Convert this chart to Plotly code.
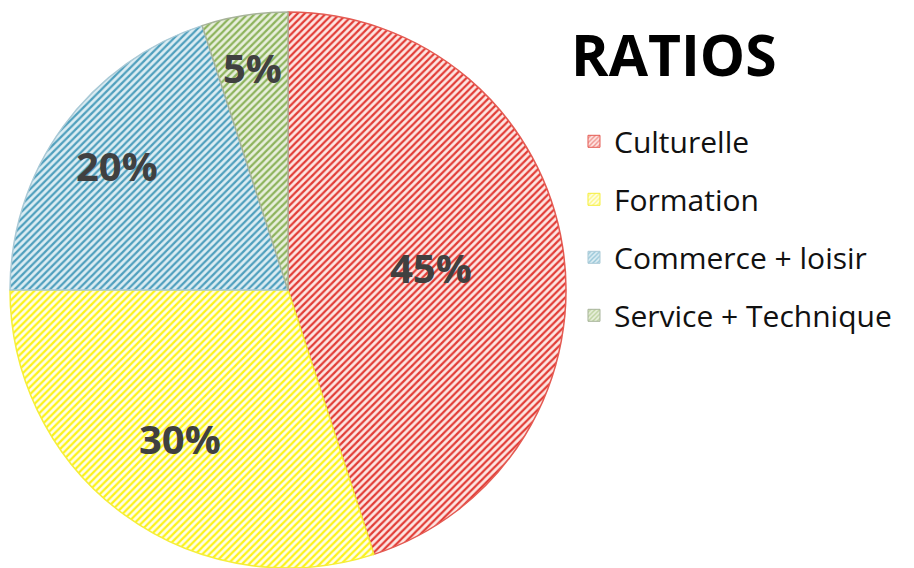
import math
import plotly.graph_objects as go

# Share of activity categories
labels = ["Culturelle", "Formation", "Commerce + loisir", "Service + Technique"]
values = [45, 30, 20, 5]

# Hatch line colours, pale backgrounds and slice outlines per category
line_colors = ["#e23c36", "#fbf21a", "#4f9fbd", "#8db35c"]
back_colors = ["#fde6e3", "#fffee6", "#dcedf3", "#e8efdc"]
edge_colors = ["#e45a52", "#f5ee3a", "#a9c9d6", "#a7b39a"]

# Radial placement of each percentage label (fraction of the radius)
label_radius = [0.52, 0.66, 0.76, 0.81]

W, H = 914, 568
pie_x = [10 / W, 566 / W]
pie_y = [0.0, 556 / H]

fig = go.Figure()

fig.add_trace(go.Pie(
    labels=labels,
    values=values,
    sort=False,
    direction="clockwise",
    rotation=0,
    showlegend=False,
    textinfo="none",
    marker=dict(
        colors=back_colors,
        line=dict(color=edge_colors, width=1.5),
        pattern=dict(shape="/", size=5, solidity=0.45,
                     fgcolor=line_colors, bgcolor=back_colors),
    ),
    domain=dict(x=pie_x, y=pie_y),
    hoverinfo="label+percent",
))

# Legend entries with hatched swatches
for i, name in enumerate(labels):
    fig.add_trace(go.Bar(
        x=[None], y=[None], name=name,
        legendgroup=name,
        marker=dict(
            color=back_colors[i],
            line=dict(color=edge_colors[i], width=1),
            pattern=dict(shape="/", size=4, solidity=0.45,
                         fgcolor=line_colors[i], bgcolor=back_colors[i]),
        ),
        hoverinfo="skip",
    ))

# Percentage labels placed at each slice's mid-angle
cx_px = (pie_x[0] + pie_x[1]) / 2 * W
cy_px = H - (pie_y[0] + pie_y[1]) / 2 * H
radius_px = (pie_x[1] - pie_x[0]) * W / 2
total = sum(values)
annotations = []
cum = 0
for v, frac in zip(values, label_radius):
    mid = (cum + v / 2) / total * 2 * math.pi
    cum += v
    px = cx_px + frac * radius_px * math.sin(mid)
    py = cy_px - frac * radius_px * math.cos(mid)
    annotations.append(dict(
        text=f"<b>{v / total * 100:.0f}%</b>",
        x=px / W, y=1 - py / H, xref="paper", yref="paper",
        xanchor="center", yanchor="middle", showarrow=False,
        font=dict(family="Open Sans", size=40, color="#404040"),
    ))

annotations.append(dict(
    text="<b>RATIOS</b>", x=569 / W, y=1 - 13 / H,
    xref="paper", yref="paper", xanchor="left", yanchor="top",
    showarrow=False,
    font=dict(family="Open Sans", size=57, color="#000000"),
))

fig.update_layout(
    width=W, height=H,
    margin=dict(l=0, r=0, t=0, b=0),
    paper_bgcolor="white",
    plot_bgcolor="rgba(0,0,0,0)",
    xaxis=dict(visible=False, domain=[0.99, 1.0]),
    yaxis=dict(visible=False, domain=[0.99, 1.0]),
    legend=dict(
        x=0.628, y=0.797, xanchor="left", yanchor="top",
        font=dict(family="Open Sans", size=30, color="#111111"),
        traceorder="grouped",
        tracegroupgap=16,
        bgcolor="rgba(0,0,0,0)",
    ),
    annotations=annotations,
)

fig.write_html("out.html")
